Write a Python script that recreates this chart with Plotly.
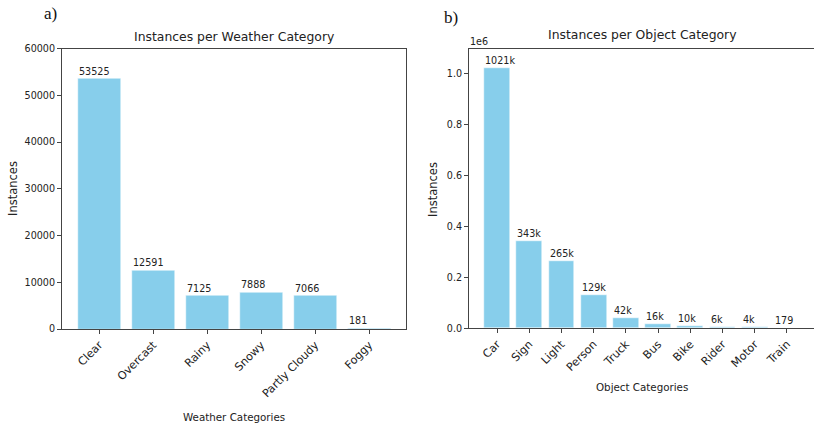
import plotly.graph_objects as go

weather_categories = ["Clear", "Overcast", "Rainy", "Snowy", "Partly Cloudy", "Foggy"]
weather_counts = [53525, 12591, 7125, 7888, 7066, 181]

object_categories = ["Car", "Sign", "Light", "Person", "Truck", "Bus", "Bike", "Rider", "Motor", "Train"]
object_counts = [1021000, 343000, 265000, 129000, 42000, 16000, 10000, 6000, 4000, 179]

weather_yticks = [0, 10000, 20000, 30000, 40000, 50000, 60000]
object_yticks = [0, 0.2e6, 0.4e6, 0.6e6, 0.8e6, 1.0e6]
object_yticklabels = ["0.0", "0.2", "0.4", "0.6", "0.8", "1.0"]

W, H = 814, 428
FONT = "DejaVu Sans, sans-serif"
TXT = "#222222"
AX = "#444444"
BAR = "#87CEEB"


def fx(px):
    return px / W


def fy(py):
    return 1 - py / H


def fmt_k(v):
    return f"{round(v / 1000)}k" if v >= 1000 else str(v)


fig = go.Figure()

fig.add_trace(go.Bar(
    x=list(range(len(weather_categories))), y=weather_counts, width=0.8,
    marker=dict(color=BAR, line=dict(color="white", width=0.5)),
    xaxis="x", yaxis="y", showlegend=False, hoverinfo="x+y"))
fig.add_trace(go.Bar(
    x=list(range(len(object_categories))), y=object_counts, width=0.8,
    marker=dict(color=BAR, line=dict(color="white", width=0.5)),
    xaxis="x2", yaxis="y2", showlegend=False, hoverinfo="x+y"))

numfont = dict(family=FONT, size=9.6, color=TXT)
catfont = dict(family=FONT, size=11.2, color=TXT)
common_x = dict(showline=True, linecolor=AX, linewidth=1, ticks="outside", ticklen=4,
                tickcolor=AX, tickangle=-45, tickfont=catfont, showgrid=False, zeroline=False,
                automargin=False)
common_y = dict(showline=True, linecolor=AX, linewidth=1, ticks="outside", ticklen=4,
                tickcolor=AX, tickfont=numfont, showgrid=False, zeroline=False,
                automargin=False)

fig.update_layout(
    width=W, height=H, margin=dict(l=0, r=0, t=0, b=0, autoexpand=False),
    paper_bgcolor="white", plot_bgcolor="white", bargap=0,
    xaxis=dict(domain=[fx(62), fx(406)], range=[-0.69, 5.68], anchor="y", mirror=True,
               tickvals=list(range(len(weather_categories))), ticktext=weather_categories, **common_x),
    yaxis=dict(domain=[fy(329), fy(48.5)], range=[0, 60000], anchor="x", mirror=True,
               tickvals=weather_yticks, ticktext=[str(v) for v in weather_yticks], **common_y),
    xaxis2=dict(domain=[fx(469), 1.0], range=[-0.87, 9.84], anchor="y2", mirror=True,
                tickvals=list(range(len(object_categories))), ticktext=object_categories, **common_x),
    yaxis2=dict(domain=[fy(328.3), fy(49)], range=[0, 1.095e6], anchor="x2",
                tickvals=object_yticks, ticktext=object_yticklabels, **common_y),
)

ann = []
for i, v in enumerate(weather_counts):
    ann.append(dict(x=i - 0.4, y=v, xref="x", yref="y", text=str(v), showarrow=False,
                    xanchor="left", yanchor="bottom", xshift=-1, yshift=0,
                    font=numfont))
for i, v in enumerate(object_counts):
    ann.append(dict(x=i - 0.4, y=v, xref="x2", yref="y2", text=fmt_k(v), showarrow=False,
                    xanchor="left", yanchor="bottom", xshift=-1, yshift=0,
                    font=numfont))

title_font = dict(family=FONT, size=12.4, color=TXT)
label_font = dict(family=FONT, size=10.3, color=TXT)
ylabel_font = dict(family=FONT, size=11.5, color=TXT)
ann += [
    dict(x=fx(234), y=fy(36), xref="paper", yref="paper", text="Instances per Weather Category",
         showarrow=False, xanchor="center", yanchor="middle", font=title_font),
    dict(x=fx(642), y=fy(35), xref="paper", yref="paper", text="Instances per Object Category",
         showarrow=False, xanchor="center", yanchor="middle", font=title_font),
    dict(x=fx(234), y=fy(417), xref="paper", yref="paper", text="Weather Categories",
         showarrow=False, xanchor="center", yanchor="middle", font=label_font),
    dict(x=fx(642), y=fy(387), xref="paper", yref="paper", text="Object Categories",
         showarrow=False, xanchor="center", yanchor="middle", font=label_font),
    dict(x=fx(13), y=fy(189), xref="paper", yref="paper", text="Instances", textangle=-90,
         showarrow=False, xanchor="center", yanchor="middle", font=ylabel_font),
    dict(x=fx(433), y=fy(190), xref="paper", yref="paper", text="Instances", textangle=-90,
         showarrow=False, xanchor="center", yanchor="middle", font=ylabel_font),
    dict(x=fx(468), y=fy(41), xref="paper", yref="paper", text="1e6",
         showarrow=False, xanchor="left", yanchor="middle", font=numfont),
    dict(x=fx(42), y=fy(14), xref="paper", yref="paper", text="a)",
         showarrow=False, xanchor="left", yanchor="middle",
         font=dict(family="Liberation Serif, serif", size=17, color="#111111")),
    dict(x=fx(442), y=fy(18), xref="paper", yref="paper", text="b)",
         showarrow=False, xanchor="left", yanchor="middle",
         font=dict(family="Liberation Serif, serif", size=17, color="#111111")),
]
fig.update_layout(annotations=ann)

fig.write_html("out.html", config={"displayModeBar": False},
               post_script="document.body.style.margin='0';document.body.style.overflow='hidden';")
